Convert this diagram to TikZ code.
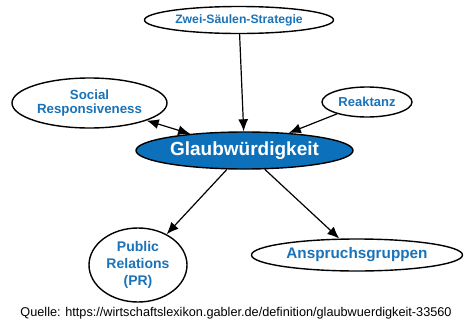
\documentclass[tikz,border=0pt]{standalone}
\usepackage{fontspec}
\setmainfont{Liberation Sans}
\usepackage{tikz}
\usetikzlibrary{arrows.meta,shapes.geometric,positioning}
\definecolor{gablerblu}{RGB}{12,112,187}
\definecolor{testoblu}{RGB}{26,115,185}

\tikzset{
  concetto/.style={ellipse, draw=black, line width=1.4pt, fill=white, inner sep=0pt,
    text=testoblu, font=\bfseries, align=center},
  principale/.style={concetto, fill=gablerblu, text=white},
  freccia/.style={line width=1.2pt, -{Latex[length=12pt,width=10pt]}},
  doppia/.style={line width=1.2pt, {Latex[length=12pt,width=10pt]}-{Latex[length=12pt,width=10pt]}}
}

\begin{document}
\begin{tikzpicture}[x=1pt,y=-1pt]
            \useasboundingbox (0,0) rectangle (474,335);
            % Nodo centrale
            \node[principale, minimum width=217pt, minimum height=37pt,
                  font=\bfseries\fontsize{19}{22}\selectfont] (glaub) at (244.5,150.5) {Glaubwürdigkeit};
            
            % Concetti collegati
            \node[concetto, minimum width=189pt, minimum height=27pt,
                  font=\bfseries\fontsize{12.2}{14}\selectfont] (zwei) at (239,20) {Zwei-Säulen-Strategie};
            \node[concetto, minimum width=155pt, minimum height=50pt,
                  font=\bfseries\fontsize{13.3}{14.5}\selectfont] (social) at (89.5,103) {Social\\Responsiveness};
            \node[concetto, minimum width=90pt, minimum height=30pt,
                  font=\bfseries\fontsize{13}{15}\selectfont] (reakt) at (367,102) {Reaktanz};
            \node[concetto, minimum width=98pt, minimum height=74pt,
                  font=\bfseries\fontsize{14}{16.7}\selectfont] (pr) at (138,265) {Public\\Relations\\(PR)};
            \node[concetto, minimum width=211pt, minimum height=32pt,
                  font=\bfseries\fontsize{15.3}{18}\selectfont] (ansp) at (357,255) {Anspruchsgruppen};
            
            % Frecce
            \draw[freccia] (zwei) -- (glaub);
            \draw[doppia] (social) -- (glaub);
            \draw[freccia] (reakt) -- (glaub);
            \draw[freccia] (glaub) -- (pr);
            \draw[freccia] (glaub) -- (ansp);
            
            % Fonte
            \node[font=\fontsize{12.7}{15}\selectfont] (quelle) at (236,313)
                {Quelle: https://wirtschaftslexikon.gabler.de/definition/glaubwuerdigkeit-33560};
        \end{tikzpicture}
\end{document}
